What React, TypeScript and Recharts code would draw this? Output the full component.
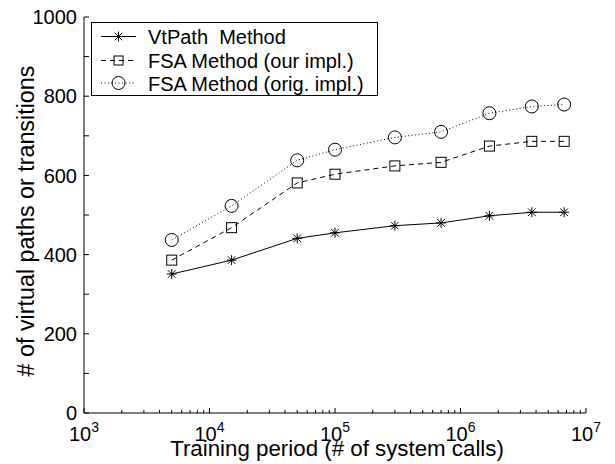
import React from 'react';
import { LineChart, Line, XAxis, YAxis } from 'recharts';

const trainingPeriods = [5000, 15000, 50000, 100000, 300000, 700000, 1700000, 3700000, 6700000];
const vtPath = [351, 386, 441, 455, 473, 480, 498, 507, 507];
const fsaOur = [386, 468, 581, 603, 624, 633, 674, 686, 686];
const fsaOrig = [437, 523, 638, 665, 696, 710, 757, 774, 779];

const xMajorExps = [3, 4, 5, 6, 7];
const yTicks = [0, 100, 200, 300, 400, 500, 600, 700, 800, 900, 1000];
const yLabelTicks = [0, 200, 400, 600, 800, 1000];

const seriesNames = ['VtPath  Method', 'FSA Method (our impl.)', 'FSA Method (orig. impl.)'];

const xMajor = xMajorExps.map((e) => Math.pow(10, e));
const xTicks: number[] = [];
xMajorExps.forEach((e, i) => {
  xTicks.push(Math.pow(10, e));
  if (i < xMajorExps.length - 1) {
    for (let m = 2; m <= 9; m++) xTicks.push(m * Math.pow(10, e));
  }
});

const data = trainingPeriods.map((x, i) => ({ x, vt: vtPath[i], our: fsaOur[i], orig: fsaOrig[i] }));

const FONT = '"Liberation Sans", Arial, Helvetica, sans-serif';

const isMajor = (v: number) => xMajor.some((m) => Math.abs(m - v) / m < 1e-9);

const XTickBottom = (props: any) => {
  const { x, y, payload } = props;
  const v = payload.value;
  const major = isMajor(v);
  const len = major ? 5 : 3;
  const exp = Math.round(Math.log10(v));
  return (
    <g>
      <line x1={x} y1={y} x2={x} y2={y - len} stroke="#000" strokeWidth={1} />
      {major && (
        <text x={x} y={y + 28} textAnchor="middle" fontFamily={FONT} fontSize={20} fill="#000">
          <tspan>10</tspan>
          <tspan dy={-9} fontSize={14}>{exp}</tspan>
        </text>
      )}
    </g>
  );
};

const XTickTop = (props: any) => {
  const { x, y, payload } = props;
  const len = isMajor(payload.value) ? 5 : 3;
  return <line x1={x} y1={y} x2={x} y2={y + len} stroke="#000" strokeWidth={1} />;
};

const YTickLeft = (props: any) => {
  const { x, y, payload } = props;
  const v = payload.value;
  return (
    <g>
      <line x1={x} y1={y} x2={x + 5} y2={y} stroke="#000" strokeWidth={1} />
      {yLabelTicks.includes(v) && (
        <text x={x - 7} y={y} dy="0.36em" textAnchor="end" fontFamily={FONT} fontSize={20} fill="#000">
          {v}
        </text>
      )}
    </g>
  );
};

const YTickRight = (props: any) => {
  const { x, y } = props;
  return <line x1={x} y1={y} x2={x - 5} y2={y} stroke="#000" strokeWidth={1} />;
};

const Star = ({ cx, cy, r = 5 }: any) => {
  const d = r * 0.75;
  return (
    <g stroke="#000" strokeWidth={1}>
      <line x1={cx - r} y1={cy} x2={cx + r} y2={cy} />
      <line x1={cx} y1={cy - r} x2={cx} y2={cy + r} />
      <line x1={cx - d} y1={cy - d} x2={cx + d} y2={cy + d} />
      <line x1={cx - d} y1={cy + d} x2={cx + d} y2={cy - d} />
    </g>
  );
};
const Square = ({ cx, cy, r = 5 }: any) => (
  <rect x={cx - r} y={cy - r} width={2 * r} height={2 * r} fill="none" stroke="#000" strokeWidth={1} />
);
const Circle = ({ cx, cy, r = 6.5 }: any) => <circle cx={cx} cy={cy} r={r} fill="none" stroke="#000" strokeWidth={1} />;

const markers = [Star, Square, Circle];
const dashes = [undefined, '5 4', '1 2.5'];
const keys = ['vt', 'our', 'orig'];

const makeDot = (idx: number) => (props: any) => {
  const M = markers[idx];
  if (props.cx == null || props.cy == null) return <g key={`${keys[idx]}-${props.index}`} />;
  return (
    <g key={`${keys[idx]}-${props.index}`}>
      <M cx={props.cx} cy={props.cy} />
    </g>
  );
};

const LegendBox = () => {
  const rowsY = [13.5, 37.5, 60];
  return (
    <div
      style={{
        position: 'absolute',
        left: 91,
        top: 22,
        width: 287,
        height: 74,
        border: '1px solid #000',
        boxSizing: 'border-box',
        background: '#fff',
      }}
    >
      <svg width={285} height={72} style={{ display: 'block', position: 'absolute', left: 0, top: 0 }}>
        {seriesNames.map((name, i) => {
          const M = markers[i];
          const cy = rowsY[i];
          return (
            <g key={name}>
              <line x1={9} y1={cy} x2={44} y2={cy} stroke="#000" strokeWidth={1} strokeDasharray={dashes[i]} />
              <M cx={26.5} cy={cy} r={i === 2 ? 6.5 : i === 1 ? 4.5 : 5} />
              <text
                x={56}
                y={cy + 7.5}
                fontFamily={FONT}
                fontSize={20}
                fill="#000"
                xmlSpace="preserve"
                style={{ whiteSpace: 'pre' }}
              >
                {name}
              </text>
            </g>
          );
        })}
      </svg>
    </div>
  );
};

export default function App() {
  return (
    <div style={{ position: 'absolute', left: 0, top: 0, width: 615, height: 464, background: '#fff' }}>
      <LineChart width={615} height={464} data={data} margin={{ top: 17, right: 29, bottom: 0, left: 0 }}>
        <XAxis
          xAxisId="b"
          dataKey="x"
          type="number"
          scale="log"
          domain={[1000, 10000000]}
          ticks={xTicks}
          interval={0}
          allowDataOverflow
          tickSize={0}
          tickMargin={0}
          tickLine={false}
          axisLine={{ stroke: '#000', strokeWidth: 1 }}
          height={51}
          tick={XTickBottom}
          label={{
            content: (p: any) => {
              const vb = p.viewBox || {};
              return (
                <text
                  x={vb.x + vb.width / 2 + 2}
                  y={456}
                  textAnchor="middle"
                  fontFamily={FONT}
                  fontSize={22.3}
                  fill="#000"
                >
                  Training period (# of system calls)
                </text>
              );
            },
          }}
        />
        <XAxis
          xAxisId="t"
          orientation="top"
          dataKey="x"
          type="number"
          scale="log"
          domain={[1000, 10000000]}
          ticks={xTicks}
          interval={0}
          allowDataOverflow
          tickSize={0}
          tickMargin={0}
          tickLine={false}
          axisLine={{ stroke: '#000', strokeWidth: 1 }}
          height={0}
          tick={XTickTop}
        />
        <YAxis
          yAxisId="l"
          type="number"
          domain={[0, 1000]}
          ticks={yTicks}
          interval={0}
          tickSize={0}
          tickMargin={0}
          tickLine={false}
          axisLine={{ stroke: '#000', strokeWidth: 1 }}
          width={84}
          tick={YTickLeft}
          label={{
            content: (p: any) => {
              const vb = p.viewBox || {};
              const cy = vb.y + vb.height / 2 + 6;
              return (
                <text
                  x={26}
                  y={cy}
                  transform={`rotate(-90, 26, ${cy})`}
                  textAnchor="middle"
                  dy="0.36em"
                  fontFamily={FONT}
                  fontSize={23.3}
                  fill="#000"
                >
                  # of virtual paths or transitions
                </text>
              );
            },
          }}
        />
        <YAxis
          yAxisId="r"
          orientation="right"
          type="number"
          domain={[0, 1000]}
          ticks={yTicks}
          interval={0}
          tickSize={0}
          tickMargin={0}
          tickLine={false}
          axisLine={{ stroke: '#000', strokeWidth: 1 }}
          width={0}
          tick={YTickRight}
        />
        {keys.map((k, i) => (
          <Line
            key={k}
            xAxisId="b"
            yAxisId="l"
            dataKey={k}
            stroke="#000"
            strokeWidth={1}
            strokeDasharray={dashes[i]}
            dot={makeDot(i)}
            activeDot={false}
            isAnimationActive={false}
            type="linear"
          />
        ))}
      </LineChart>
      <LegendBox />
    </div>
  );
}
